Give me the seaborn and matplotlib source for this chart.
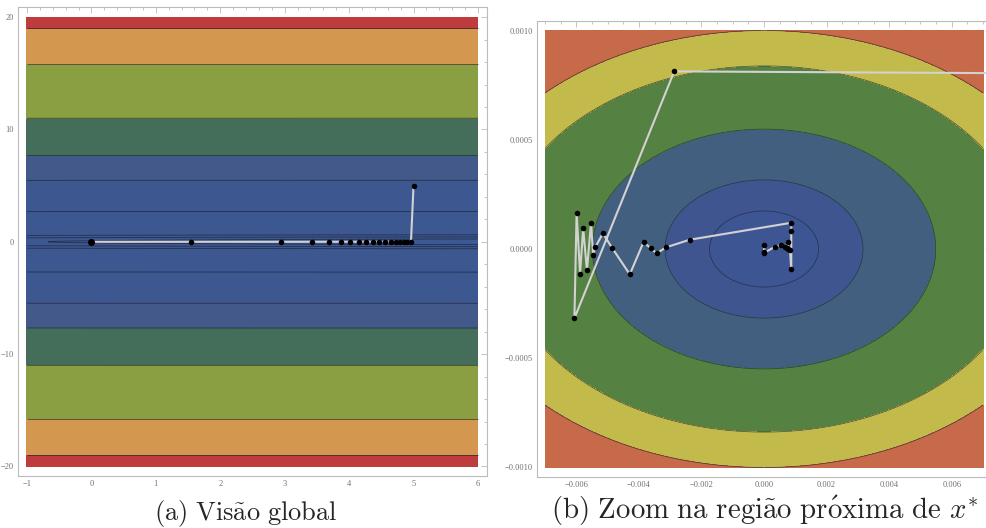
import numpy as np
import pandas as pd
import seaborn as sns
import matplotlib.pyplot as plt
from matplotlib.ticker import MultipleLocator, FuncFormatter

# contour levels (band edges)
levels_a = [0.0727, 7.3, 30.0, 59.0, 121.0, 250.0, 361.0]
lines_a = [0.0727, 0.2, 0.4, 7.3, 30.0, 59.0, 121.0, 250.0, 361.0]
colors_a = ["#3D5893", "#3D5791", "#3D5791", "#42598A", "#456E5A",
            "#8A9E42", "#D4974F", "#BE3C3E"]

levels_b = [3.03e-8, 1.0e-7, 3.01e-7, 7.02e-7, 1.0e-6]
colors_b = ["#3D5593", "#3E5590", "#425F80", "#558242", "#C2BA4A", "#C76A4A"]

# iterates, panel (a)
path_a_x = [5.0, 4.96, 4.90, 4.85, 4.79, 4.73, 4.65, 4.56, 4.46, 4.37, 4.26,
            4.15, 4.01, 3.87, 3.69, 3.42, 2.94, 1.545, 0.0]
path_a_y = [4.98, 0.0, 0.0, 0.0, 0.0, 0.0, 0.0, 0.0, 0.0, 0.0, 0.0,
            0.0, 0.0, 0.0, 0.0, 0.0, 0.0, 0.0, 0.0]

# iterates, panel (b) (zoom around x*)
path_b_x = [0.02, -0.00287, -0.00606, -0.00599, -0.00588, -0.00578, -0.00566,
            -0.00553, -0.00546, -0.00539, -0.00515, -0.00486, -0.00429, -0.00385,
            -0.00362, -0.00343, -0.00313, -0.00237, 0.00087, 0.00087, 0.00087,
            0.00083, 0.00078, 0.000757, 0.000725, 0.00067, 0.00053, 0.00035,
            0.00001, 0.0, 0.0]
path_b_y = [0.000795, 0.000813, -0.000317, 0.000166, -0.000113, 0.0000947, -0.0000975,
            0.00012, -0.0000275, 0.0000092, 0.0000718, 0.000006, -0.000116, 0.000032,
            0.000003, -0.0000197, 0.0000078, 0.0000426, 0.00012, 0.0000838, -0.0000915,
            -0.0000046, -0.0000015, 0.0000307, 0.000003, 0.0000078, 0.0000183, 0.0000105,
            -0.000017, 0.000018, -0.000013]

df_a = pd.DataFrame({"x": path_a_x, "y": path_a_y})
df_b = pd.DataFrame({"x": path_b_x, "y": path_b_y})

sns.set_style("white")
plt.rcParams["mathtext.fontset"] = "cm"
plt.rcParams["font.family"] = ["Liberation Serif", "DejaVu Serif"]

fig = plt.figure(figsize=(9.87, 5.28), dpi=100)
ax_a = fig.add_axes([0.0182, 0.0985, 0.4752, 0.888])
ax_b = fig.add_axes([0.5441, 0.0966, 0.4600, 0.8636])

# objective fields
xa = np.linspace(-1, 6, 400)
ya = np.linspace(-20, 20, 900)
XA, YA = np.meshgrid(xa, ya)
FA = ((XA - 10) / 39.7) ** 2 + YA ** 2

xb = np.linspace(-0.007, 0.007, 500)
yb = np.linspace(-0.001, 0.001, 500)
XB, YB = np.meshgrid(xb, yb)
FB = (XB / 10) ** 2 + YB ** 2

ax_a.contourf(XA, YA, FA, levels=[0] + levels_a + [FA.max() + 1], colors=colors_a)
ax_a.contour(XA, YA, FA, levels=lines_a, colors="#1a2030", linewidths=0.6, alpha=0.7)

ax_b.contourf(XB, YB, FB, levels=[0] + levels_b + [FB.max() + 1e-7], colors=colors_b)
ax_b.contour(XB, YB, FB, levels=levels_b, colors="#1a2030", linewidths=0.5, alpha=0.7)

for ax, df in [(ax_a, df_a), (ax_b, df_b)]:
    sns.lineplot(data=df, x="x", y="y", sort=False, estimator=None,
                 color="#D2D2D2", linewidth=1.5, ax=ax, zorder=3)
    sns.scatterplot(data=df, x="x", y="y", color="black", s=16,
                    linewidth=0, ax=ax, zorder=4)

# bigger dot at the end point in (a)
sns.scatterplot(x=path_a_x[-1:], y=path_a_y[-1:], color="black", s=26,
                linewidth=0, ax=ax_a, zorder=5)

ax_a.set_xlim(-1.14, 6.14)
ax_a.set_ylim(-20.85, 20.89)
ax_b.set_xlim(-0.007255, 0.007255)
ax_b.set_ylim(-0.0010435, 0.0010435)


def fmt(d):
    def f(v, p):
        if abs(v) < 1e-12:
            v = 0.0
        return f"{v:.{d}f}".replace("-", "\u2212")
    return FuncFormatter(f)


ax_a.xaxis.set_major_locator(MultipleLocator(1))
ax_a.xaxis.set_minor_locator(MultipleLocator(0.2))
ax_a.yaxis.set_major_locator(MultipleLocator(10))
ax_a.yaxis.set_minor_locator(MultipleLocator(2))
ax_a.xaxis.set_major_formatter(fmt(0))
ax_a.yaxis.set_major_formatter(fmt(0))

ax_b.xaxis.set_major_locator(MultipleLocator(0.002))
ax_b.xaxis.set_minor_locator(MultipleLocator(0.0005))
ax_b.yaxis.set_major_locator(MultipleLocator(0.0005))
ax_b.yaxis.set_minor_locator(MultipleLocator(0.0001))
ax_b.xaxis.set_major_formatter(fmt(3))
ax_b.yaxis.set_major_formatter(fmt(4))

for ax in (ax_a, ax_b):
    ax.set_xlabel("")
    ax.set_ylabel("")
    for s in ax.spines.values():
        s.set_color("#BBBBBB")
        s.set_linewidth(0.8)
    ax.tick_params(which="both", direction="in", top=True, right=True,
                   color="#BBBBBB", width=0.6, labelsize=6, labelcolor="#707070", pad=3)
    ax.tick_params(which="major", length=4)
    ax.tick_params(which="minor", length=2.2)

# accents shifted back to sit over the upright letters
cap_a = r"$\mathrm{(a)\ Vis\hspace{-0.2}\tilde{\hspace{0.2}a}o\ global}$"
cap_b = (r"$\mathrm{(b)\ Zoom\ na\ regi\hspace{-0.2}\tilde{\hspace{0.2}a}o\ "
         r"pr\hspace{-0.2}\acute{\hspace{0.2}o}xima\ de}\ x^{*}$")
fig.text(0.249, 0.027, cap_a, ha="center", va="center", fontsize=19)
fig.text(0.775, 0.033, cap_b, ha="center", va="center", fontsize=20.8)

fig.savefig("out.png", dpi=100)
